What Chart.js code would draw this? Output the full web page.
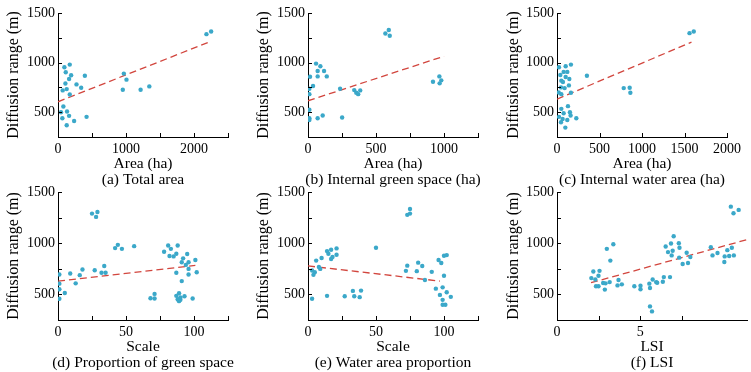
<!DOCTYPE html>
<html>
<head>
<meta charset="utf-8">
<script src="https://cdn.jsdelivr.net/npm/chart.js@4.4.1/dist/chart.umd.min.js"></script>
<style>
  body { margin: 0; background: #fff; }
  #wrap { position: relative; width: 751px; height: 372px; overflow: hidden; }
  canvas { position: absolute; }
</style>
</head>
<body>
<div id="wrap">
  <canvas id="pa" width="250" height="190" style="left:0;top:0"></canvas>
  <canvas id="pb" width="250" height="190" style="left:250px;top:0"></canvas>
  <canvas id="pc" width="251" height="190" style="left:500px;top:0"></canvas>
  <canvas id="pd" width="250" height="192" style="left:0;top:180px"></canvas>
  <canvas id="pe" width="250" height="192" style="left:250px;top:180px"></canvas>
  <canvas id="pf" width="251" height="192" style="left:500px;top:180px"></canvas>
</div>
<script>
// (a) total area
const aX = [94,173,114,193,163,109,69,128,272,341,395,173,79,44,133,64,163,237,128,420,968,1007,953,1215,1343,2183,2252];
const aY = [953,980,902,872,834,790,720,733,780,747,868,679,557,500,507,439,463,412,368,453,889,828,726,726,760,1287,1314];
const aFit = [[0, 605], [2250, 1215]];

// (b) internal green space
const bX = [59,91,71,118,15,71,138,37,10,10,10,10,10,71,108,236,251,340,355,369,384,569,594,601,919,966,968,980];
const bY = [990,963,916,916,858,861,861,764,736,682,524,439,422,439,466,736,446,723,696,682,720,1294,1328,1270,807,861,791,821];
const bFit = [[0, 615], [1000, 1064]];

// (c) internal water area
const cX = [23,78,102,164,121,39,102,145,51,70,352,47,90,140,20,51,164,129,51,152,78,160,23,66,121,47,227,98,785,855,863,1559,1609];
const cY = [953,906,963,980,906,875,855,834,818,804,868,750,743,770,699,682,696,561,534,500,490,466,453,432,422,399,439,345,743,747,696,1297,1314];
const cFit = [[0, 632], [1582, 1206]];

// (d) proportion of green space
const dX = [1,1,1,1,5,9,13,16,18,27,34,32,35,25,28,29,42,44,47,56,68,71,71,78,81,83,82,85,88,87,92,95,91,94,96,96,87,96,101,102,91,87,89,90,88,89,90,93,99];
const dY = [695,605,550,457,514,704,608,688,743,736,778,711,711,1289,1257,1305,952,984,945,971,463,505,460,916,977,945,875,871,977,897,852,894,814,788,814,749,711,695,836,717,630,486,511,469,453,434,447,482,460];
const dFit = [[0, 630], [101, 783]];

// (e) water area proportion
const eX = [3,4,5,3,6,8,9,10,14,15,17,17,18,21,21,14,27,33,34,39,38,50,72,73,73,75,75,80,81,84,86,91,94,96,98,100,102,97,99,100,99,99,101,102,105];
const eY = [733,691,717,457,830,768,749,855,923,897,936,846,865,949,887,486,482,534,482,537,473,955,730,781,1277,1289,1334,727,810,778,640,720,556,836,807,878,884,495,569,682,447,399,399,521,476];
const eFit = [[0, 778], [97, 630]];

// (f) LSI
const fX = [2.06,2.18,2.30,2.55,2.49,2.34,2.49,2.77,2.87,2.91,2.99,3.20,3.38,3.16,3.69,3.63,3.89,4.64,5.01,5.01,5.54,5.58,5.58,5.70,5.74,5.95,6.01,6.35,6.41,6.78,6.52,6.66,6.84,6.88,6.94,7.00,7.31,7.35,7.33,7.54,7.78,7.86,8.00,9.23,9.33,9.63,10.04,10.06,10.22,10.33,10.49,10.61,10.43,10.59,10.90];
const fY = [659,723,646,730,682,579,579,611,547,608,945,830,990,620,640,588,598,579,585,550,605,563,383,334,646,620,614,624,669,669,968,913,997,881,926,1068,1000,955,859,797,907,807,865,961,881,904,817,871,932,875,955,881,1357,1293,1325];
const fFit = [[2.04, 614], [11.4, 1035]];

const yLabel = "Diffusion range (m)";
const serif = "Liberation Serif, serif";
const dotColor = "#3ba8c9";
const fitColor = "#d2463e";

Chart.defaults.font.family = serif;
Chart.defaults.color = "#000";

// ticks pointing into the plot, plus the caption under the axis title
const panelDeco = {
  id: "panelDeco",
  afterDraw(chart, args, opts) {
    const ctx = chart.ctx;
    const x = chart.scales.x, y = chart.scales.y;
    const area = chart.chartArea;
    ctx.save();
    ctx.strokeStyle = "#000";
    ctx.lineWidth = 1;
    ctx.beginPath();
    x.ticks.forEach(t => {
      const r = t.value / opts.xStep;
      if (Math.abs(r - Math.round(r)) > 1e-6) return;
      const px = Math.round(x.getPixelForValue(t.value)) + 0.5;
      ctx.moveTo(px, area.bottom);
      ctx.lineTo(px, area.bottom - 4);
    });
    y.ticks.forEach(t => {
      const py = Math.round(y.getPixelForValue(t.value)) + 0.5;
      ctx.moveTo(area.left, py);
      ctx.lineTo(area.left + 4, py);
    });
    ctx.stroke();
    ctx.fillStyle = "#000";
    ctx.font = "15.5px " + serif;
    ctx.textAlign = "center";
    ctx.textBaseline = "middle";
    ctx.fillText(opts.caption, (area.left + area.right) / 2, area.bottom + 43);
    ctx.restore();
  }
};

function toPts(xs, ys) {
  return xs.map((v, i) => ({ x: v, y: ys[i] }));
}

function makePanel(id, p) {
  new Chart(document.getElementById(id), {
    type: "scatter",
    data: {
      datasets: [
        {
          data: toPts(p.xs, p.ys),
          backgroundColor: dotColor,
          borderWidth: 0,
          pointRadius: 2.2,
        },
        {
          type: "line",
          data: p.fit.map(q => ({ x: q[0], y: q[1] })),
          borderColor: fitColor,
          borderWidth: 1.3,
          borderDash: [7, 4],
          pointRadius: 0,
          fill: false,
        },
      ],
    },
    options: {
      responsive: false,
      animation: false,
      devicePixelRatio: 1,
      layout: { padding: { top: p.padTop, right: p.padRight, left: 0, bottom: 0 } },
      plugins: {
        legend: { display: false },
        tooltip: { enabled: false },
        panelDeco: { caption: p.caption, xStep: p.xStep },
      },
      scales: {
        x: {
          type: "linear",
          min: 0,
          max: p.xMax,
          afterFit: s => { s.height = p.xH; },
          grid: { display: false, drawTicks: false },
          border: { display: true, color: "#000", width: 1 },
          ticks: {
            stepSize: p.xStep,
            padding: 4,
            color: "#000",
            maxRotation: 0,
            autoSkip: false,
            font: { family: serif, size: 14 },
            callback: v => {
              const r = v / p.xLabelStep;
              return Math.abs(r - Math.round(r)) < 1e-6 ? String(v) : "";
            },
          },
          title: {
            display: true,
            text: p.xTitle,
            color: "#000",
            font: { family: serif, size: 15.5 },
            padding: { top: 0, bottom: p.xTitlePad },
          },
        },
        y: {
          type: "linear",
          min: 250,
          max: 1500,
          afterFit: s => { s.width = p.yW; },
          grid: { display: false, drawTicks: false },
          border: { display: true, color: "#000", width: 1 },
          ticks: {
            stepSize: 250,
            padding: 3,
            color: "#000",
            autoSkip: false,
            font: { family: serif, size: 14 },
            callback: v => (v % 500 === 0 ? String(v) : ""),
          },
          title: {
            display: true,
            text: yLabel,
            color: "#000",
            font: { family: serif, size: 16 },
            padding: { top: 4, bottom: 0 },
          },
        },
      },
    },
    plugins: [panelDeco],
  });
}

const topRow = { padTop: 13, xH: 53, xTitlePad: 17 };
const botRow = { padTop: 12, xH: 52, xTitlePad: 16 };

makePanel("pa", Object.assign({}, topRow, { xs: aX, ys: aY, fit: aFit, xMax: 2500, xStep: 500, xLabelStep: 1000, yW: 58, padRight: 22, xTitle: "Area (ha)", caption: "(a) Total area" }));
makePanel("pb", Object.assign({}, topRow, { xs: bX, ys: bY, fit: bFit, xMax: 1250, xStep: 250, xLabelStep: 500, yW: 58, padRight: 22, xTitle: "Area (ha)", caption: "(b) Internal green space (ha)" }));
makePanel("pc", Object.assign({}, topRow, { xs: cX, ys: cY, fit: cFit, xMax: 2000, xStep: 500, xLabelStep: 500, yW: 57, padRight: 24, xTitle: "Area (ha)", caption: "(c) Internal water area (ha)" }));
makePanel("pd", Object.assign({}, botRow, { xs: dX, ys: dY, fit: dFit, xMax: 125, xStep: 25, xLabelStep: 50, yW: 58, padRight: 22, xTitle: "Scale", caption: "(d) Proportion of green space" }));
makePanel("pe", Object.assign({}, botRow, { xs: eX, ys: eY, fit: eFit, xMax: 125, xStep: 25, xLabelStep: 50, yW: 58, padRight: 22, xTitle: "Scale", caption: "(e) Water area proportion" }));
makePanel("pf", Object.assign({}, botRow, { xs: fX, ys: fY, fit: fFit, xMax: 11.4, xStep: 2.5, xLabelStep: 5, yW: 57, padRight: 0, xTitle: "LSI", caption: "(f) LSI" }));
</script>
</body>
</html>
